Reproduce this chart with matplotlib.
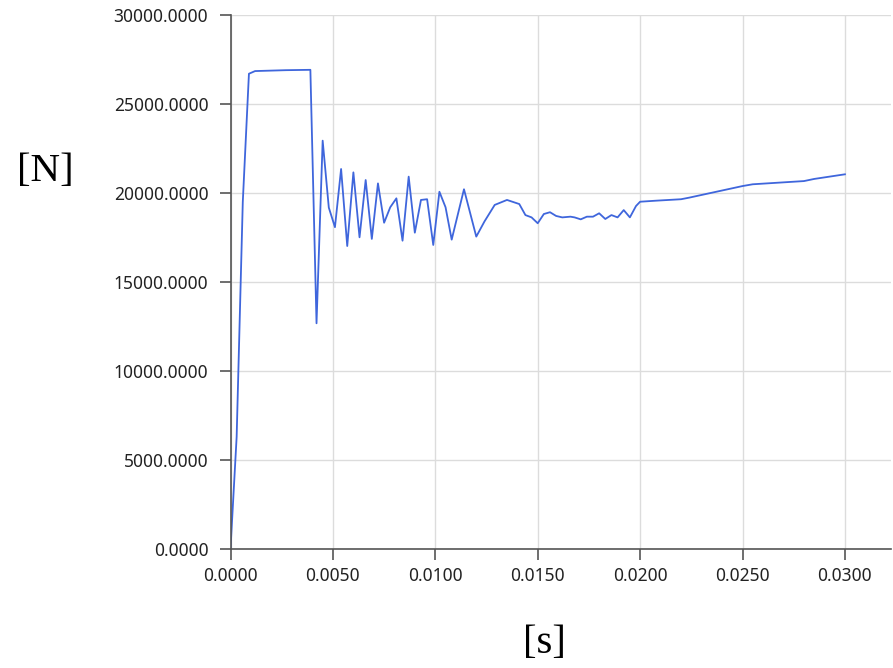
# plot.py
# Fuerza [N] frente a tiempo [s], genera out.png

import matplotlib
matplotlib.use("Agg")
import matplotlib.pyplot as plt
from matplotlib.ticker import FormatStrFormatter, MultipleLocator

# Tiempo [s] y fuerza [N]
tiempo = [
    0.0, 0.0003, 0.0006, 0.0009, 0.0012, 0.0018, 0.0027, 0.0039,
    0.0042, 0.0045, 0.0048, 0.0051, 0.0054, 0.0057, 0.0060, 0.0063,
    0.0066, 0.0069, 0.0072, 0.0075, 0.0078, 0.0081, 0.0084, 0.0087,
    0.0090, 0.0093, 0.0096, 0.0099, 0.0102, 0.0105, 0.0108, 0.0114,
    0.0120, 0.0124, 0.0129, 0.0135, 0.0141, 0.0144, 0.0147, 0.0150,
    0.0153, 0.0156, 0.0159, 0.0162, 0.0166, 0.0168, 0.0171, 0.0174,
    0.0177, 0.0180, 0.0183, 0.0186, 0.0189, 0.0192, 0.0195, 0.0198,
    0.0200, 0.0208, 0.0220, 0.0224, 0.0250, 0.0255, 0.0280, 0.0285,
    0.0300,
]
fuerza = [
    0, 6300, 19500, 26700, 26850, 26870, 26900, 26920,
    12680, 22940, 19180, 18080, 21350, 17020, 21160, 17510,
    20730, 17420, 20540, 18330, 19200, 19700, 17320, 20920,
    17770, 19610, 19650, 17080, 20070, 19200, 17380, 20210,
    17550, 18400, 19330, 19610, 19380, 18760, 18630, 18300,
    18820, 18920, 18710, 18630, 18670, 18630, 18520, 18670,
    18670, 18860, 18540, 18760, 18630, 19040, 18630, 19270,
    19510, 19570, 19650, 19740, 20390, 20490, 20670, 20790,
    21050,
]

fig = plt.figure(figsize=(8.93, 6.68), dpi=100)
ax = fig.add_axes([230.5 / 893, 1 - 549 / 668, (891 - 230.5) / 893, (549 - 15) / 668])

ax.plot(tiempo, fuerza, color="#3f66dc", linewidth=1.3)

ax.set_xlim(0, 0.03225)
ax.set_ylim(0, 30000)
ax.xaxis.set_major_locator(MultipleLocator(0.005))
ax.yaxis.set_major_locator(MultipleLocator(5000))
ax.xaxis.set_major_formatter(FormatStrFormatter("%.4f"))
ax.yaxis.set_major_formatter(FormatStrFormatter("%.4f"))

# Ejes y rejilla
for s in ("top", "right"):
    ax.spines[s].set_visible(False)
for s in ("left", "bottom"):
    ax.spines[s].set_color("#555555")
    ax.spines[s].set_linewidth(1.2)
ax.grid(True, color="#dcdcdc", linewidth=1.0)
ax.set_axisbelow(True)
ax.tick_params(direction="out", length=8, width=1.2, color="#555555",
               labelcolor="#222222", labelsize=12.5)
ax.tick_params(axis="y", pad=8)
ax.tick_params(axis="x", pad=5)
for lbl in ax.get_xticklabels() + ax.get_yticklabels():
    lbl.set_fontfamily("Noto Sans")

# Unidades
fig.text(45 / 893, 1 - 172 / 668, "[N]", fontsize=29.5, family="Liberation Serif",
         ha="center", va="center", color="black")
fig.text(544 / 893, 1 - 644 / 668, "[s]", fontsize=29.5, family="Liberation Serif",
         ha="center", va="center", color="black")

fig.savefig("out.png", dpi=100)
